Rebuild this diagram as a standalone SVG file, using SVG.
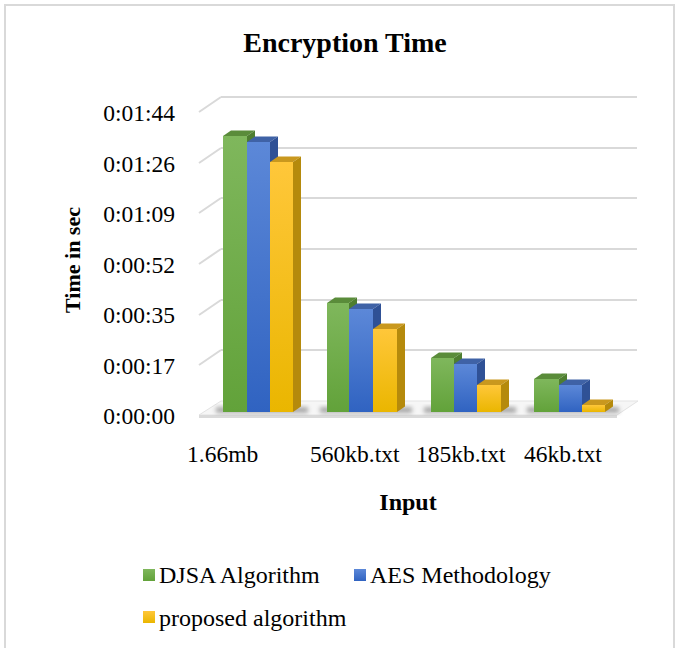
<svg xmlns="http://www.w3.org/2000/svg" width="678" height="648" viewBox="0 0 678 648">
<defs>
<linearGradient id="gG" x1="0" y1="0" x2="0" y2="1"><stop offset="0" stop-color="#7fb75c"/><stop offset="1" stop-color="#62a23a"/></linearGradient>
<linearGradient id="gB" x1="0" y1="0" x2="0" y2="1"><stop offset="0" stop-color="#5c88d8"/><stop offset="1" stop-color="#3063c1"/></linearGradient>
<linearGradient id="gY" x1="0" y1="0" x2="0" y2="1"><stop offset="0" stop-color="#ffc73a"/><stop offset="1" stop-color="#eab600"/></linearGradient>
<filter id="blur" x="-20%" y="-50%" width="140%" height="200%"><feGaussianBlur stdDeviation="2"/></filter>
</defs>
<style>
text{font-family:"Liberation Serif","Times New Roman",serif;fill:#000}
.lab{font-size:23.5px}
.leg{font-size:24px}
.ttl{font-size:28px;font-weight:bold}
.ax{font-size:24px;font-weight:bold}
.ay{font-size:22px;font-weight:bold}
.grid{stroke:#d9d9d9;stroke-width:2;fill:none}
.gTop{fill:#5a8c3a}.gSide{fill:#4e7e30}.gF{fill:url(#gG)}
.bTop{fill:#3f62a6}.bSide{fill:#2f5196}.bF{fill:url(#gB)}
.yTop{fill:#c9981e}.ySide{fill:#b58a0c}.yF{fill:url(#gY)}
</style>
<rect x="5" y="5" width="669" height="650" fill="#fff" stroke="#d9d9d9" stroke-width="2"/>
<text class="ttl" x="345" y="52" text-anchor="middle">Encryption Time</text>
<g id="gridlines">
<path class="grid" d="M221 97H637M221 148H637M221 198H637M221 249H637M221 300H637M221 350H637"/>
<path class="grid" d="M199 112L221 97M199 163L221 148M199 213L221 198M199 264L221 249M199 315L221 300M199 365L221 350"/>
</g>
<g id="floor">
<polygon points="199,415 221,401 638,401 617,415" fill="#f6f6f6" stroke="#e3e3e3" stroke-width="1"/>
<rect x="199" y="415" width="418" height="3" fill="#dadada"/>
<g filter="url(#blur)" fill="#8a8a8a" opacity="0.7">
<rect x="216" y="407" width="92" height="6"/>
<rect x="320" y="407" width="92" height="6"/>
<rect x="424" y="407" width="92" height="6"/>
<rect x="527" y="407" width="92" height="6"/>
</g>
</g>
<g id="y-axis-labels" class="lab" text-anchor="end">
<text x="175" y="121">0:01:44</text>
<text x="175" y="171.5">0:01:26</text>
<text x="175" y="222">0:01:09</text>
<text x="175" y="272.5">0:00:52</text>
<text x="175" y="323">0:00:35</text>
<text x="175" y="373.5">0:00:17</text>
<text x="175" y="424">0:00:00</text>
</g>
<g id="bars-1-66mb">
<polygon class="gTop" points="223,136 231,130.5 255,130.5 247,136"/>
<polygon class="gSide" points="247,136 255,130.5 255,406.5 247,412"/>
<rect class="gF" x="223" y="136" width="24" height="276"/>
<polygon class="bTop" points="247,142 255,136.5 278,136.5 270,142"/>
<polygon class="bSide" points="270,142 278,136.5 278,406.5 270,412"/>
<rect class="bF" x="247" y="142" width="23" height="270"/>
<polygon class="yTop" points="270,162 278,156.5 301,156.5 293,162"/>
<polygon class="ySide" points="293,162 301,156.5 301,406.5 293,412"/>
<rect class="yF" x="270" y="162" width="23" height="250"/>
</g>
<g id="bars-560kb">
<polygon class="gTop" points="327,303 335,297.5 357,297.5 349,303"/>
<polygon class="gSide" points="349,303 357,297.5 357,406.5 349,412"/>
<rect class="gF" x="327" y="303" width="22" height="109"/>
<polygon class="bTop" points="349,309 357,303.5 381,303.5 373,309"/>
<polygon class="bSide" points="373,309 381,303.5 381,406.5 373,412"/>
<rect class="bF" x="349" y="309" width="24" height="103"/>
<polygon class="yTop" points="373,329 381,323.5 405,323.5 397,329"/>
<polygon class="ySide" points="397,329 405,323.5 405,406.5 397,412"/>
<rect class="yF" x="373" y="329" width="24" height="83"/>
</g>
<g id="bars-185kb">
<polygon class="gTop" points="431,358 439,352.5 462,352.5 454,358"/>
<polygon class="gSide" points="454,358 462,352.5 462,406.5 454,412"/>
<rect class="gF" x="431" y="358" width="23" height="54"/>
<polygon class="bTop" points="454,364 462,358.5 485,358.5 477,364"/>
<polygon class="bSide" points="477,364 485,358.5 485,406.5 477,412"/>
<rect class="bF" x="454" y="364" width="23" height="48"/>
<polygon class="yTop" points="477,385 485,379.5 509,379.5 501,385"/>
<polygon class="ySide" points="501,385 509,379.5 509,406.5 501,412"/>
<rect class="yF" x="477" y="385" width="24" height="27"/>
</g>
<g id="bars-46kb">
<polygon class="gTop" points="534,379 542,373.5 567,373.5 559,379"/>
<polygon class="gSide" points="559,379 567,373.5 567,406.5 559,412"/>
<rect class="gF" x="534" y="379" width="25" height="33"/>
<polygon class="bTop" points="559,385 567,379.5 590,379.5 582,385"/>
<polygon class="bSide" points="582,385 590,379.5 590,406.5 582,412"/>
<rect class="bF" x="559" y="385" width="23" height="27"/>
<polygon class="yTop" points="582,405 590,399.5 613,399.5 605,405"/>
<polygon class="ySide" points="605,405 613,399.5 613,406.5 605,412"/>
<rect class="yF" x="582" y="405" width="23" height="7"/>
</g>
<g id="x-axis-labels" class="lab">
<text x="187" y="462">1.66mb</text>
<text x="310" y="462">560kb.txt</text>
<text x="416" y="462">185kb.txt</text>
<text x="524" y="462">46kb.txt</text>
</g>
<text class="ax" x="408" y="510" text-anchor="middle">Input</text>
<text class="ay" transform="translate(80,260) rotate(-90)" text-anchor="middle">Time in sec</text>
<g id="legend" class="leg">
<g id="legend-djsa"><rect x="143" y="569" width="12" height="12" fill="url(#gG)"/><text x="159" y="583">DJSA Algorithm</text></g>
<g id="legend-aes"><rect x="354" y="569" width="12" height="12" fill="url(#gB)"/><text x="370" y="583">AES Methodology</text></g>
<g id="legend-proposed"><rect x="143" y="611" width="12" height="12" fill="url(#gY)"/><text x="159" y="626">proposed algorithm</text></g>
</g>
</svg>
